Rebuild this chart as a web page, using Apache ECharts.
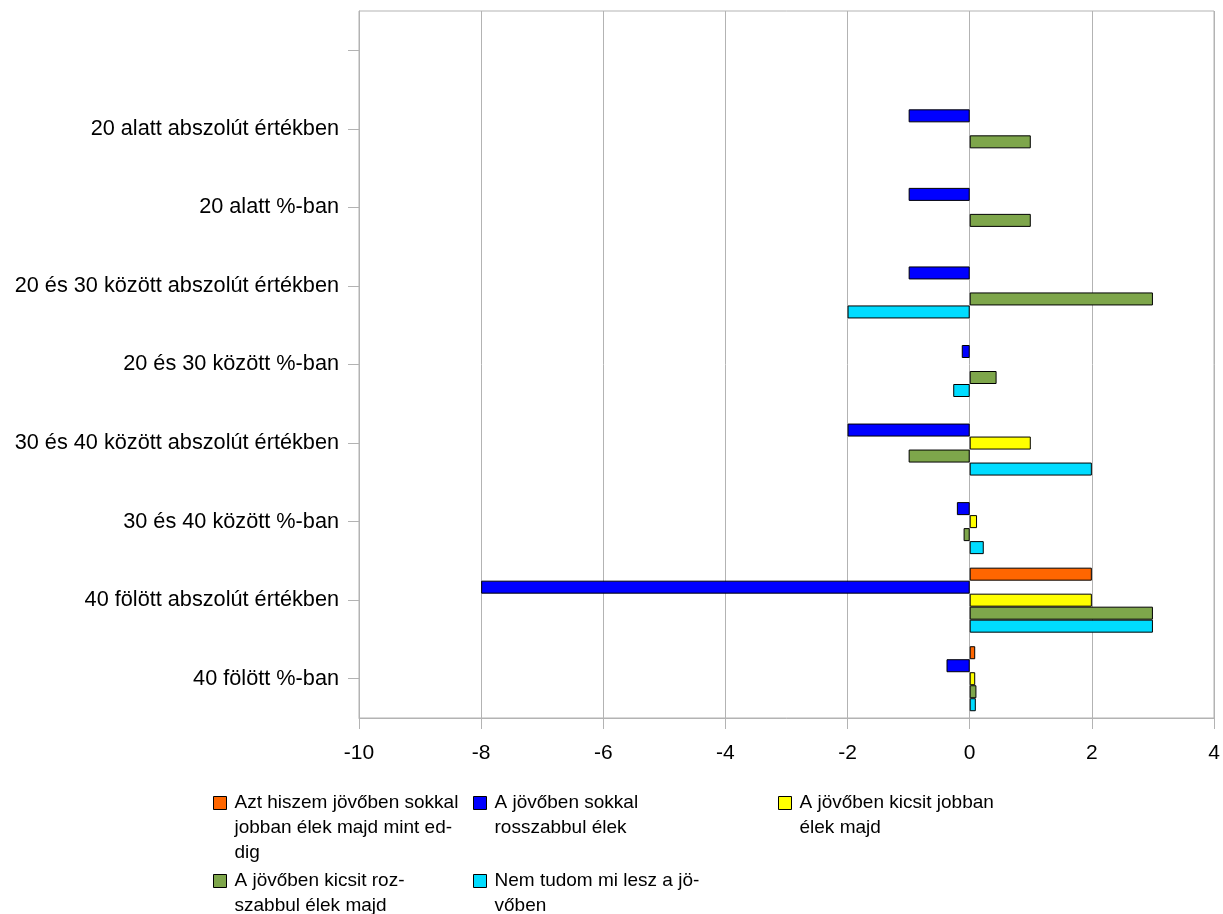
<!DOCTYPE html>
<html><head><meta charset="utf-8">
<script src="https://cdn.jsdelivr.net/npm/echarts@6/dist/echarts.min.js"></script>
<style>html,body{margin:0;padding:0;background:#fff}#c{width:1223px;height:914px}</style>
</head><body><div id="c"></div>
<script>
const categories = ['', '20 alatt abszolút értékben', '20 alatt %-ban', '20 és 30 között abszolút értékben', '20 és 30 között %-ban', '30 és 40 között abszolút értékben', '30 és 40 között %-ban', '40 fölött abszolút értékben', '40 fölött %-ban'];
const seriesNames = ['Azt hiszem jövőben sokkal jobban élek majd mint eddig', 'A jövőben sokkal rosszabbul élek', 'A jövőben kicsit jobban élek majd', 'A jövőben kicsit rosszabbul élek majd', 'Nem tudom mi lesz a jövőben'];
const legendLabels = ['Azt hiszem jövőben sokkal\njobban élek majd mint ed-\ndig', 'A jövőben sokkal\nrosszabbul élek', 'A jövőben kicsit jobban\nélek majd', 'A jövőben kicsit roz-\nszabbul élek majd', 'Nem tudom mi lesz a jö-\nvőben'];
const muchBetter = [null, null, null, null, null, null, null, 2, 0.09];
const muchWorse = [null, -1, -1, -1, -0.13, -2, -0.21, -8, -0.38];
const slightlyBetter = [null, null, null, null, null, 1, 0.12, 2, 0.09];
const slightlyWorse = [null, 1, 1, 3, 0.44, -1, -0.1, 3, 0.11];
const dontKnow = [null, null, null, -2, -0.27, 2, 0.23, 3, 0.1];
const xTicks = [-10, -8, -6, -4, -2, 0, 2, 4];

const colors = ['#ff6600', '#0000ff', '#ffff00', '#7ea64b', '#00dcff'];
const values = [muchBetter, muchWorse, slightlyBetter, slightlyWorse, dontKnow];
const FONT = "'Liberation Sans', Arial, sans-serif";
const GRAY = '#b3b3b3';

const legendPos = [[213, 803], [473, 803], [778, 803], [213, 881], [473, 881]];
const LH = 25;
const legends = seriesNames.map((n, i) => {
  const lines = legendLabels[i].split('\n');
  const k = lines.length - 1;
  const text = '\n'.repeat(k) + lines.map(l => '{t|' + l + '}').join('\n');
  return {
    data: [n],
    left: legendPos[i][0],
    top: legendPos[i][1] - (2 * lines.length - 1) * LH / 2,
    orient: 'vertical',
    padding: 0,
    itemWidth: 13,
    itemHeight: 13,
    itemGap: 0,
    icon: 'rect',
    itemStyle: { borderColor: '#000', borderWidth: 1 },
    formatter: () => text,
    textStyle: {
      fontFamily: FONT, fontSize: 19, color: '#000', lineHeight: LH,
      rich: { t: { fontFamily: FONT, fontSize: 19, color: '#000', lineHeight: LH, padding: [0, 0, 0, 3] } }
    },
    selectedMode: false
  };
});

const chart = echarts.init(document.getElementById('c'), null, { renderer: 'canvas' });
chart.setOption({
  animation: false,
  backgroundColor: '#fff',
  grid: { left: 359, top: 11, right: 9, bottom: 196, show: true, borderColor: GRAY, borderWidth: 1, containLabel: false },
  legend: legends,
  xAxis: {
    type: 'value', min: xTicks[0], max: xTicks[xTicks.length - 1], interval: 2,
    axisLine: { show: true, onZero: false, lineStyle: { color: GRAY } },
    axisTick: { show: true, length: 11, lineStyle: { color: GRAY } },
    splitLine: { show: true, lineStyle: { color: GRAY } },
    axisLabel: { fontFamily: FONT, fontSize: 21, color: '#000', margin: 25 }
  },
  yAxis: {
    type: 'category', data: categories, inverse: true,
    axisLine: { show: true, onZero: false, lineStyle: { color: GRAY } },
    axisTick: { show: true, alignWithLabel: true, length: 11, lineStyle: { color: GRAY } },
    splitLine: { show: false },
    axisLabel: { fontFamily: FONT, fontSize: 21.7, color: '#000', margin: 20, interval: 0 }
  },
  series: seriesNames.map((n, i) => ({
    name: n, type: 'bar', data: values[i], barWidth: 13, barGap: '0%',
    itemStyle: { color: colors[i], borderColor: '#000', borderWidth: 1 }
  }))
});
</script>
</body></html>
